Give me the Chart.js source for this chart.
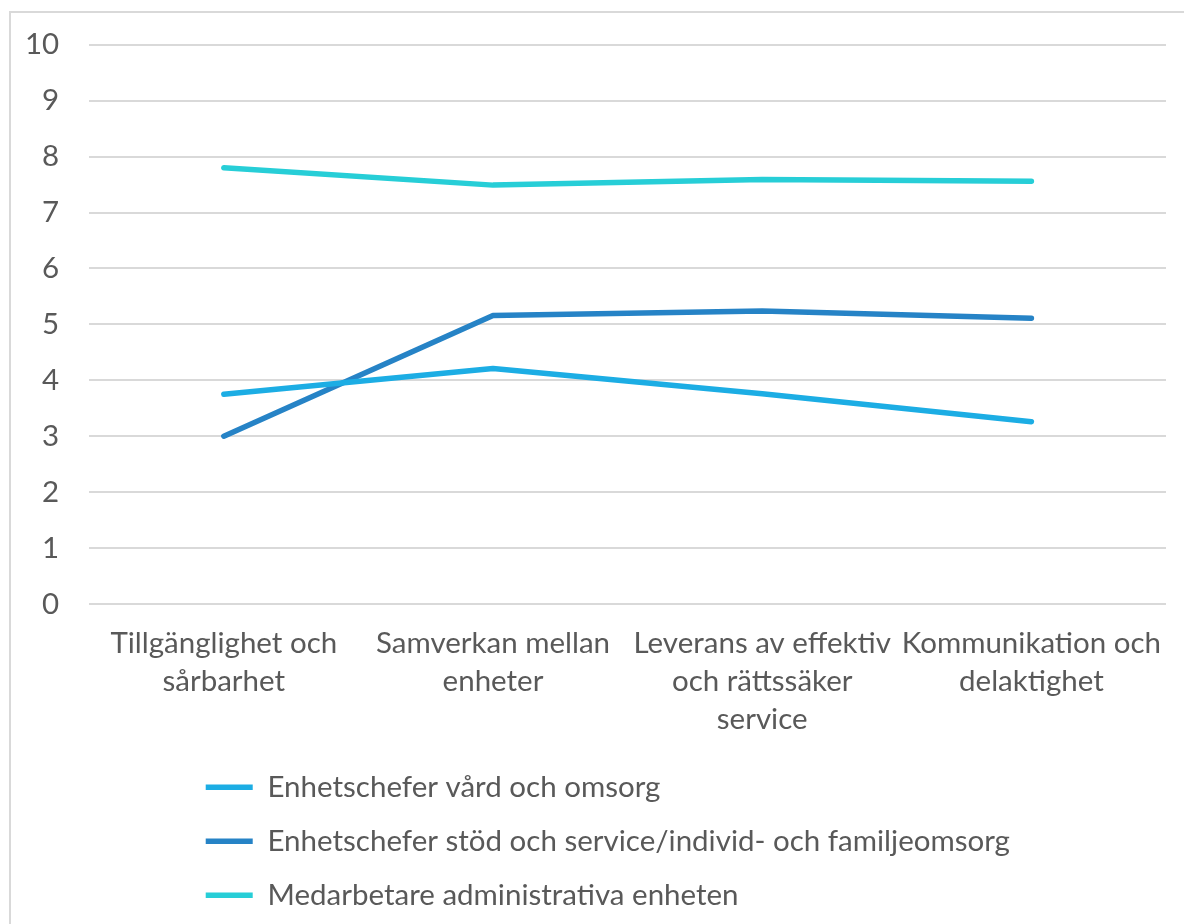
<!DOCTYPE html>
<html lang="sv">
<head>
  <meta charset="UTF-8">
  <title>Linjediagram</title>
  <script src="https://cdn.jsdelivr.net/npm/chart.js"></script>
  <style>
    body { margin: 0; background: #fff; overflow: hidden; }
    #frame {
      position: absolute; left: 9px; top: 11px; width: 1200px; height: 1000px;
      border: 2px solid #d9d9d9; box-sizing: border-box;
    }
    #chart { position: absolute; left: 0; top: 0; }
  </style>
</head>
<body>
  <div id="frame"></div>
  <canvas id="chart" width="1184" height="924"></canvas>

  <script>
    // data
    const categories = [
      ["Tillgänglighet och", "sårbarhet"],
      ["Samverkan mellan", "enheter"],
      ["Leverans av effektiv", "och rättssäker", "service"],
      ["Kommunikation och", "delaktighet"]
    ];
    const seriesNames = [
      "Enhetschefer vård och omsorg",
      "Enhetschefer stöd och service/individ- och familjeomsorg",
      "Medarbetare administrativa enheten"
    ];
    const vardOmsorg = [3.75, 4.21, 3.76, 3.26];
    const stodService = [3.0, 5.16, 5.24, 5.11];
    const administrativa = [7.80, 7.49, 7.59, 7.56];
    const colors = ["#1CADE4", "#2683C6", "#27CED7"];

    const textColor = "#595959";
    const fontFamily = "Lato, 'Open Sans', sans-serif";
    const fontSize = 29.5;

    const datasets = [vardOmsorg, stodService, administrativa].map((vals, i) => ({
      label: seriesNames[i],
      data: vals,
      borderColor: colors[i],
      backgroundColor: colors[i],
      borderWidth: 5.5,
      borderCapStyle: "round",
      borderJoinStyle: "round",
      pointRadius: 0,
      pointStyle: "line",
      tension: 0,
      fill: false
    }));

    // legend rows sit further right and a bit higher in the original
    const legendShift = {
      id: "legendShift",
      afterLayout(chart) {
        chart.legend.left += 92;
        chart.legend.right += 92;
        chart.legend.top -= 10;
      }
    };

    new Chart(document.getElementById("chart"), {
      type: "line",
      data: { labels: categories, datasets: datasets },
      plugins: [legendShift],
      options: {
        responsive: false,
        animation: false,
        layout: { padding: { left: 25, top: 27, right: 18, bottom: 0 } },
        scales: {
          x: {
            offset: true,
            grid: { display: false, drawTicks: false },
            border: { display: false },
            ticks: {
              color: textColor,
              padding: 20,
              maxRotation: 0,
              autoSkip: false,
              font: { family: fontFamily, size: fontSize, lineHeight: 38 / fontSize }
            }
          },
          y: {
            min: 0,
            max: 10,
            grid: { color: "#d9d9d9", lineWidth: 2, drawTicks: false },
            border: { display: false },
            ticks: {
              stepSize: 1,
              color: textColor,
              padding: 30,
              font: { family: fontFamily, size: fontSize, lineHeight: 1 }
            },
            afterFit(scale) { scale.width -= 30; }
          }
        },
        plugins: {
          legend: {
            position: "bottom",
            align: "start",
            fullSize: false,
            maxHeight: 166,
            labels: {
              usePointStyle: true,
              pointStyleWidth: 47,
              padding: 24.5,
              color: textColor,
              font: { family: fontFamily, size: fontSize }
            }
          },
          tooltip: { enabled: false }
        }
      }
    });
  </script>
</body>
</html>
